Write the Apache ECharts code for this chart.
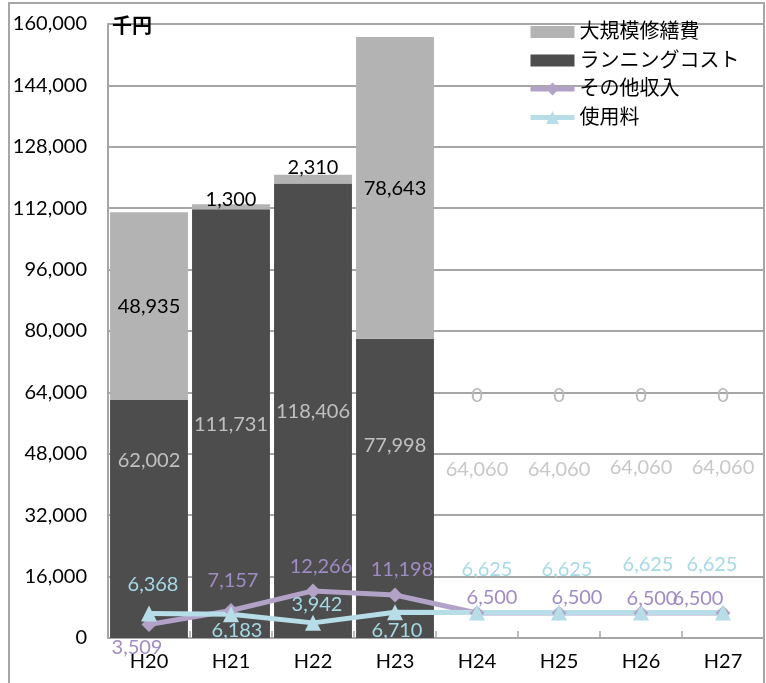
<!DOCTYPE html>
<html><head><meta charset="utf-8">
<script src="https://cdn.jsdelivr.net/npm/echarts@6/dist/echarts.min.js"></script>
<style>html,body{margin:0;padding:0;background:#fff}#c{width:766px;height:683px}</style>
</head><body><div id="c"></div>
<script>
// ---- data ----
const categories = ['H20','H21','H22','H23','H24','H25','H26','H27'];
const repairCost = [48935, 1300, 2310, 78643, 0, 0, 0, 0];           // 大規模修繕費
const runningCost = [62002, 111731, 118406, 77998, 64060, 64060, 64060, 64060]; // ランニングコスト
const otherIncome = [3509, 7157, 12266, 11198, 6500, 6500, 6500, 6500];  // その他収入
const usageFee = [6368, 6183, 3942, 6710, 6625, 6625, 6625, 6625];      // 使用料
const yMin = 0, yMax = 160000, yInterval = 16000;
const firstPlanIndex = 4; // H24 onward: planned values (running-cost bar not filled)

// ---- label layout (px offsets) ----
const repairLabelDy = [0, -7, -12, 1, 3, 3, 3, 3];
const runningLabelDy = [-58, 1, 1, -43, -46, -46, -48, -48];
const otherLabelOffset = [[-12,23],[2,-30],[8,-24],[7,-25],[15,-16],[18,-16],[11,-15],[-25,-15]];
const usageLabelOffset = [[4,-29],[6,16],[4,-18],[2,18],[10,-43],[8,-43],[7,-48],[-11,-48]];

const FONT = 'Lato, "Noto Sans CJK JP", sans-serif';
const fmt = v => Number(v).toLocaleString('en-US');
const GRID = '#a6a6a6';
const BAR_ICON = 'path://M0,0h44v12h-44z';

const chart = echarts.init(document.getElementById('c'), null, {renderer: 'canvas'});

const runningData = runningCost.map((v, i) => ({
  value: v,
  itemStyle: i >= firstPlanIndex ? {color: 'rgba(0,0,0,0)'} : undefined,
  label: {offset: [0, runningLabelDy[i]], color: i >= firstPlanIndex ? '#c8c8c8' : '#c0c0c0'}
}));
const repairData = repairCost.map((v, i) => ({
  value: v,
  label: {offset: [0, repairLabelDy[i]], color: i >= firstPlanIndex ? '#b8b8b8' : '#000'}
}));
const otherData = otherIncome.map((v, i) => ({value: v, label: {offset: otherLabelOffset[i]}}));
const usageData = usageFee.map((v, i) => ({value: v, label: {offset: usageLabelOffset[i]}}));

chart.setOption({
  animation: false,
  backgroundColor: '#fff',
  textStyle: {fontFamily: FONT},
  grid: {left: 108, right: 2, top: 24, bottom: 45},
  graphic: [
    {type: 'rect', silent: true, z: -10,
     shape: {x: 9, y: 3, width: 755, height: 720},
     style: {fill: 'none', stroke: GRID, lineWidth: 2}},
    {type: 'text', left: 112, top: 15, z: 100,
     style: {text: '千円', font: 'bold 20px "Noto Sans CJK JP"', fill: '#000'}}
  ],
  legend: {
    orient: 'vertical', left: 528, top: 22, padding: 0,
    itemWidth: 44, itemHeight: 16, itemGap: 8.5,
    symbolKeepAspect: true,
    textStyle: {fontSize: 20, color: '#000', fontFamily: FONT},
    data: [
      {name: '大規模修繕費', icon: BAR_ICON},
      {name: 'ランニングコスト', icon: BAR_ICON},
      {name: 'その他収入', lineStyle: {width: 5}},
      {name: '使用料', lineStyle: {width: 5}}
    ]
  },
  xAxis: {
    type: 'category', data: categories,
    axisLine: {lineStyle: {color: GRID, width: 2}},
    axisTick: {show: true, inside: true, length: 7, lineStyle: {color: GRID, width: 1.5}},
    axisLabel: {color: '#000', fontSize: 20, margin: 14, fontFamily: FONT}
  },
  yAxis: {
    type: 'value', min: yMin, max: yMax, interval: yInterval,
    axisLine: {show: true, lineStyle: {color: GRID, width: 2}},
    axisTick: {show: false},
    splitLine: {lineStyle: {color: GRID, width: 2}},
    axisLabel: {color: '#000', fontSize: 20, margin: 21, fontFamily: FONT, formatter: v => fmt(v)}
  },
  series: [
    {
      name: 'ランニングコスト', type: 'bar', stack: 'cost', barCategoryGap: '5%',
      itemStyle: {color: '#4d4d4d'},
      label: {show: true, position: 'inside', fontSize: 20, fontFamily: FONT, formatter: p => fmt(p.value)},
      data: runningData
    },
    {
      name: '大規模修繕費', type: 'bar', stack: 'cost', barCategoryGap: '5%',
      itemStyle: {color: '#b3b3b3'},
      label: {show: true, position: 'inside', fontSize: 20, fontFamily: FONT, formatter: p => fmt(p.value)},
      data: repairData
    },
    {
      name: 'その他収入', type: 'line', symbol: 'diamond', symbolSize: 15,
      lineStyle: {color: '#b3a2c7', width: 5},
      itemStyle: {color: '#b3a2c7'},
      label: {show: true, position: 'inside', fontSize: 20, fontFamily: FONT, color: '#a08cc4', formatter: p => fmt(p.value)},
      data: otherData
    },
    {
      name: '使用料', type: 'line', symbol: 'triangle', symbolSize: 16,
      lineStyle: {color: '#b7dee8', width: 5},
      itemStyle: {color: '#b7dee8'},
      label: {show: true, position: 'inside', fontSize: 20, fontFamily: FONT, color: '#a6d9e6', formatter: p => fmt(p.value)},
      data: usageData
    }
  ]
});
</script>
</body></html>
